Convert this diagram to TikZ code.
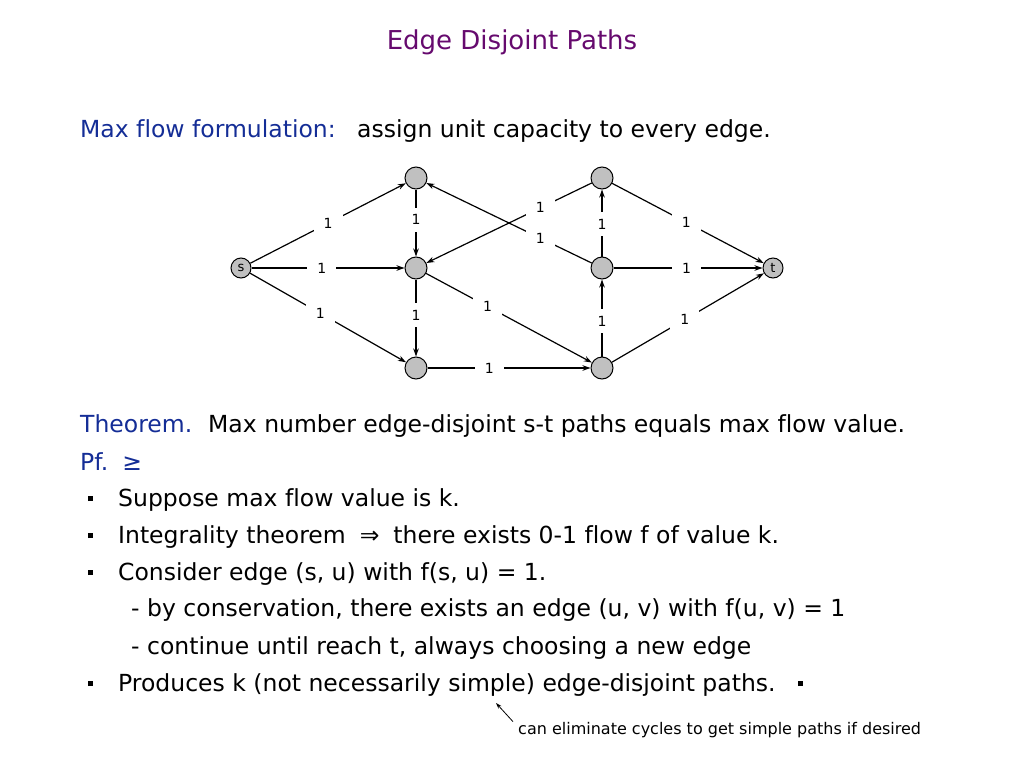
\documentclass[tikz,border=0pt]{standalone}
\usepackage{fontspec}
\setmainfont[Ligatures=NoCommon]{DejaVu Sans}
\usetikzlibrary{arrows.meta}
\definecolor{titlepurple}{RGB}{102,10,110}
\definecolor{headblue}{RGB}{20,45,150}
\definecolor{nodegray}{RGB}{192,192,192}
\newcommand{\sqbullet}{\rule[5pt]{5pt}{5pt}}
\newcommand{\bodyfont}{\fontsize{23.5}{28}\selectfont}

\begin{document}
\begin{tikzpicture}[x=1pt, y=-1pt,
    vertex/.style={circle, draw, fill=nodegray, line width=1pt, minimum size=22pt, inner sep=0pt},
    term/.style={vertex, minimum size=20pt, font=\fontsize{13}{13}\selectfont},
    flow/.style={line width=1.2pt, -{Stealth[length=8pt,width=5.5pt]}},
    capnum/.style={fill=white, inner xsep=10pt, inner ysep=7pt, font=\fontsize{14}{14}\selectfont},
    textline/.style={anchor=base west, inner sep=0pt, font=\bodyfont}]
\useasboundingbox (0,0) rectangle (1024,768);
\node[anchor=base, inner sep=0pt, font=\fontsize{26}{30}\selectfont, text=titlepurple] (title) at (512,49) {Edge Disjoint Paths};
\node[textline, text=headblue] (form) at (80,137) {Max flow formulation:};
\node[textline] (formtxt) at (357,137) {assign unit capacity to every edge.};

\node[term] (s) at (241,268) {s};
\node[vertex] (a) at (416,178) {};
\node[vertex] (b) at (416,268) {};
\node[vertex] (c) at (416,368) {};
\node[vertex] (e) at (602,178) {};
\node[vertex] (d) at (602,268) {};
\node[vertex] (f) at (602,368) {};
\node[term] (t) at (773,268) {t};

\draw[flow] (s) -- node[capnum, pos=.5] {1} (a);
\draw[flow] (s) -- node[capnum, pos=.46] {1} (b);
\draw[flow] (s) -- node[capnum, pos=.45] {1} (c);
\draw[flow] (a) -- node[capnum, pos=.45] {1} (b);
\draw[flow] (b) -- node[capnum, pos=.46] {1} (c);
\draw[flow] (e) -- node[capnum, pos=.31] {1} (b);
\draw[flow] (d) -- node[capnum, pos=.31] {1} (a);
\draw[flow] (b) -- node[capnum, pos=.37] {1} (f);
\draw[flow] (c) -- node[capnum, pos=.38] {1} (f);
\draw[flow] (f) -- node[capnum, pos=.46] {1} (d);
\draw[flow] (d) -- node[capnum, pos=.48] {1} (e);
\draw[flow] (e) -- node[capnum, pos=.49] {1} (t);
\draw[flow] (d) -- node[capnum, pos=.49] {1} (t);
\draw[flow] (f) -- node[capnum, pos=.48] {1} (t);

\node[textline, text=headblue] (thm) at (80,432) {Theorem.};
\node[textline] (thmtxt) at (208,432) {Max number edge-disjoint s-t paths equals max flow value.};
\node[textline, text=headblue] (pf) at (80,470) {Pf.\hspace{14pt}≥};
\node[textline] (b1) at (88,506) {\makebox[30pt][l]{\sqbullet}Suppose max flow value is k.};
\node[textline] (b2) at (88,543) {\makebox[30pt][l]{\sqbullet}Integrality theorem \;⇒\; there exists 0-1 flow f of value k.};
\node[textline] (b3) at (88,580) {\makebox[30pt][l]{\sqbullet}Consider edge (s, u) with f(s, u) = 1.};
\node[textline] (b3a) at (131,616) {- by conservation, there exists an edge (u, v) with f(u, v) = 1};
\node[textline] (b3b) at (131,654) {- continue until reach t, always choosing a new edge};
\node[textline] (b4) at (88,691) {\makebox[30pt][l]{\sqbullet}Produces k (not necessarily simple) edge-disjoint paths.\hspace{22pt}\sqbullet};

\node[anchor=base west, inner sep=0pt, font=\fontsize{16}{18}\selectfont] (note) at (518,734) {can eliminate cycles to get simple paths if desired};
\coordinate (tip) at (496,703);
\draw[line width=0.8pt, -{Stealth[length=6pt,width=4pt]}] ([xshift=-5pt]note.north west) -- (tip);
\end{tikzpicture}
\end{document}
